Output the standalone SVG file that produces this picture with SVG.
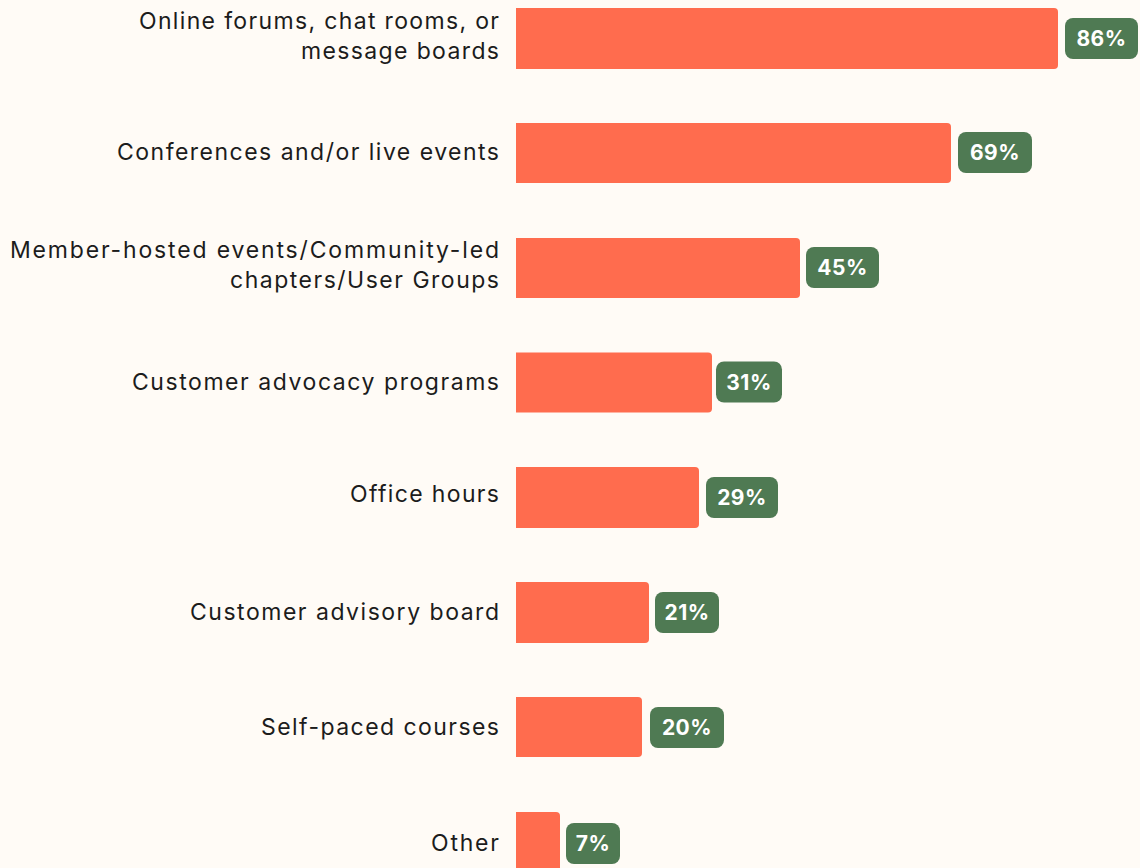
<svg xmlns="http://www.w3.org/2000/svg" width="1140" height="868" viewBox="0 0 1140 868">
<style>
.lbl{font-family:"Inter","Noto Sans",sans-serif;font-size:23px;fill:#1c1c1c;text-anchor:end}
.bar{fill:#FF6C4E}
.badge{fill:#4F7A53}
.val{font-family:"Inter","Noto Sans",sans-serif;font-size:21px;font-weight:700;fill:#FFFFFF;text-anchor:middle;letter-spacing:0.5px}
</style>
<rect width="1140" height="868" fill="#FFFBF6"/>
<g id="row1">
<text class="lbl" x="499" y="29" textLength="360" lengthAdjust="spacing">Online forums, chat rooms, or</text>
<text class="lbl" x="499" y="59" textLength="198" lengthAdjust="spacing">message boards</text>
<path class="bar" d="M516,8 H1054 a4,4 0 0 1 4,4 V65 a4,4 0 0 1 -4,4 H516 Z"/>
<rect class="badge" x="1065" y="18" width="73" height="41" rx="8"/>
<text class="val" x="1101.5" y="46">86%</text>
</g>
<g id="row2">
<text class="lbl" x="499" y="160" textLength="382" lengthAdjust="spacing">Conferences and/or live events</text>
<path class="bar" d="M516,123 H947 a4,4 0 0 1 4,4 V179 a4,4 0 0 1 -4,4 H516 Z"/>
<rect class="badge" x="958" y="132" width="74" height="41" rx="8"/>
<text class="val" x="995" y="160">69%</text>
</g>
<g id="row3">
<text class="lbl" x="499" y="258" textLength="489" lengthAdjust="spacing">Member-hosted events/Community-led</text>
<text class="lbl" x="499" y="288" textLength="269" lengthAdjust="spacing">chapters/User Groups</text>
<path class="bar" d="M516,238 H796 a4,4 0 0 1 4,4 V294 a4,4 0 0 1 -4,4 H516 Z"/>
<rect class="badge" x="806" y="247" width="73" height="41" rx="8"/>
<text class="val" x="842.5" y="275">45%</text>
</g>
<g id="row4">
<text class="lbl" x="499" y="390" textLength="367" lengthAdjust="spacing">Customer advocacy programs</text>
<path class="bar" d="M516,352.5 H708 a4,4 0 0 1 4,4 V408.5 a4,4 0 0 1 -4,4 H516 Z"/>
<rect class="badge" x="716" y="361.5" width="66" height="41" rx="8"/>
<text class="val" x="749" y="389.5">31%</text>
</g>
<g id="row5">
<text class="lbl" x="499" y="502" textLength="149" lengthAdjust="spacing">Office hours</text>
<path class="bar" d="M516,467 H695 a4,4 0 0 1 4,4 V524 a4,4 0 0 1 -4,4 H516 Z"/>
<rect class="badge" x="706" y="477" width="72" height="41" rx="8"/>
<text class="val" x="742" y="505">29%</text>
</g>
<g id="row6">
<text class="lbl" x="499" y="620" textLength="309" lengthAdjust="spacing">Customer advisory board</text>
<path class="bar" d="M516,582 H645 a4,4 0 0 1 4,4 V639 a4,4 0 0 1 -4,4 H516 Z"/>
<rect class="badge" x="655" y="592" width="64" height="41" rx="8"/>
<text class="val" x="687" y="620">21%</text>
</g>
<g id="row7">
<text class="lbl" x="499" y="735" textLength="238" lengthAdjust="spacing">Self-paced courses</text>
<path class="bar" d="M516,697 H638 a4,4 0 0 1 4,4 V753 a4,4 0 0 1 -4,4 H516 Z"/>
<rect class="badge" x="650" y="707" width="74" height="41" rx="8"/>
<text class="val" x="687" y="735">20%</text>
</g>
<g id="row8">
<text class="lbl" x="499" y="851" textLength="68" lengthAdjust="spacing">Other</text>
<path class="bar" d="M516,812 H556 a4,4 0 0 1 4,4 V868 H516 Z"/>
<rect class="badge" x="566" y="823" width="54" height="41" rx="8"/>
<text class="val" x="593" y="851">7%</text>
</g>
</svg>
